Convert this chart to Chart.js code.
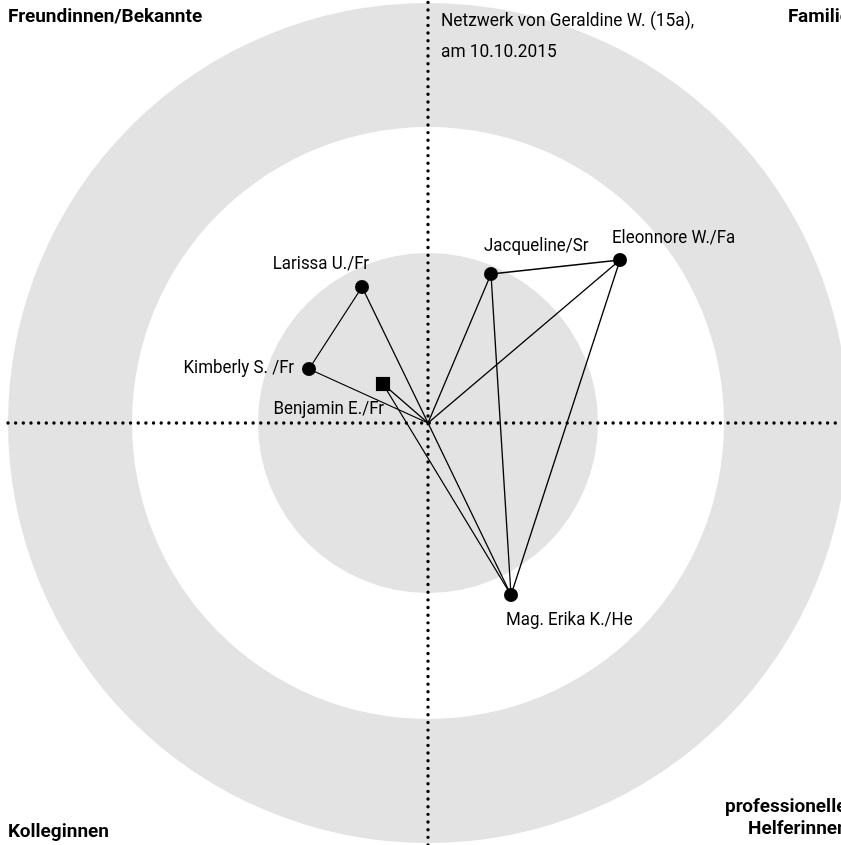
<!DOCTYPE html>
<html>
<head>
<meta charset="utf-8">
<script src="https://cdn.jsdelivr.net/npm/chart.js@4.4.0/dist/chart.umd.min.js"></script>
<style>
  html, body { margin: 0; padding: 0; background: #ffffff; overflow: hidden; }
  #wrap { width: 841px; height: 845px; position: relative; }
</style>
</head>
<body>
<div id="wrap"><canvas id="c"></canvas></div>
<script>
// ---- data (chart units, ego at 0,0) ----
const names = ['Larissa U./Fr', 'Kimberly S. /Fr', 'Benjamin E./Fr', 'Jacqueline/Sr', 'Eleonnore W./Fa', 'Mag. Erika K./He'];
const xs = [-66, -119, -45, 63, 192, 83];
const ys = [136, 54, 39, 149, 163, -172];
const shapes = ['circle', 'circle', 'rect', 'circle', 'circle', 'circle'];
const ego = 'Ego';
const edges = [
  ['Larissa U./Fr', 'Kimberly S. /Fr'],
  ['Larissa U./Fr', ego],
  ['Kimberly S. /Fr', ego],
  ['Benjamin E./Fr', ego],
  ['Benjamin E./Fr', 'Mag. Erika K./He'],
  ['Jacqueline/Sr', 'Eleonnore W./Fa'],
  ['Jacqueline/Sr', ego],
  ['Jacqueline/Sr', 'Mag. Erika K./He'],
  ['Eleonnore W./Fa', ego],
  ['Eleonnore W./Fa', 'Mag. Erika K./He'],
  [ego, 'Mag. Erika K./He']
];
const ringRadii = [420, 296, 170];          // outer gray, white, inner gray
const ringColors = ['#e3e3e3', '#ffffff', '#e3e3e3'];
const sectorTitles = ['Freundinnen/Bekannte', 'Familie', 'Kolleginnen', 'professionelle\nHelferinnen'];
const titleLines = ['Netzwerk von Geraldine W. (15a),', 'am 10.10.2015'];
const axisExtentX = [-420, 413];
const axisExtentY = [-422, 423];

// ---- helpers ----
function pos(n) {
  if (n === ego) return { x: 0, y: 0 };
  const i = names.indexOf(n);
  return { x: xs[i], y: ys[i] };
}

const FONT = "Roboto, 'Open Sans', sans-serif";

function drawText(ctx, text, px, py, align, sx) {
  ctx.save();
  ctx.translate(px, py);
  ctx.scale(sx, 1);
  ctx.textAlign = align;
  ctx.fillText(text, 0, 0);
  ctx.restore();
}

const edgeSets = edges.map(e => ({
  type: 'line',
  data: [pos(e[0]), pos(e[1])],
  borderColor: '#000',
  borderWidth: 1.3,
  pointRadius: 0,
  showLine: true,
  fill: false,
  order: 5
}));

const axisSets = [
  { type: 'line', data: [{ x: axisExtentX[0], y: 0 }, { x: axisExtentX[1], y: 0 }] },
  { type: 'line', data: [{ x: 0, y: axisExtentY[0] }, { x: 0, y: axisExtentY[1] }] }
].map(d => Object.assign(d, {
  borderColor: '#000', borderWidth: 3.4, borderDash: [0.01, 7.65], borderCapStyle: 'round',
  pointRadius: 0, showLine: true, fill: false, order: 10
}));

const nodeSet = {
  type: 'scatter',
  data: names.map((n, i) => ({ x: xs[i], y: ys[i] })),
  pointStyle: shapes,
  pointRadius: shapes.map(s => s === 'rect' ? 10 : 7),
  pointHoverRadius: shapes.map(s => s === 'rect' ? 10 : 7),
  backgroundColor: '#000',
  borderColor: '#000',
  borderWidth: 0,
  order: 1
};

// label placement (layout only)
const labelPlace = {
  'Larissa U./Fr':   { dx: 7,   dy: -23, align: 'right' },
  'Kimberly S. /Fr': { dx: -15, dy: -1,  align: 'right' },
  'Benjamin E./Fr':  { dx: 1,   dy: 25,  align: 'right' },
  'Jacqueline/Sr':   { dx: -7,  dy: -28, align: 'left' },
  'Eleonnore W./Fa': { dx: -8,  dy: -22, align: 'left' },
  'Mag. Erika K./He':{ dx: -5,  dy: 25,  align: 'left' }
};

const ringsPlugin = {
  id: 'rings',
  beforeDatasetsDraw(chart) {
    const { ctx, scales: { x, y } } = chart;
    const cx = x.getPixelForValue(0), cy = y.getPixelForValue(0);
    ctx.save();
    ringRadii.forEach((r, i) => {
      const rp = x.getPixelForValue(r) - cx;
      ctx.beginPath();
      ctx.arc(cx, cy, rp, 0, Math.PI * 2);
      ctx.fillStyle = ringColors[i];
      ctx.fill();
    });
    ctx.restore();
  },
  afterDatasetsDraw(chart) {
    const { ctx, scales: { x, y } } = chart;
    ctx.save();
    ctx.fillStyle = '#000';
    ctx.textBaseline = 'middle';
    ctx.font = "19px " + FONT;
    names.forEach((n, i) => {
      const p = labelPlace[n];
      drawText(ctx, n, x.getPixelForValue(xs[i]) + p.dx, y.getPixelForValue(ys[i]) + p.dy, p.align, 0.89);
    });
    // title
    drawText(ctx, titleLines[0], 441, 21, 'left', 0.91);
    drawText(ctx, titleLines[1], 441, 52, 'left', 0.91);
    // sector titles
    ctx.font = "bold 19px " + FONT;
    drawText(ctx, sectorTitles[0], 8, 17, 'left', 1.0);
    drawText(ctx, sectorTitles[1], 788, 17, 'left', 1.0);
    drawText(ctx, sectorTitles[2], 8, 832, 'left', 1.0);
    const pl = sectorTitles[3].split('\n');
    drawText(ctx, pl[0], 725, 807, 'left', 1.0);
    drawText(ctx, pl[1], 748, 829, 'left', 1.0);
    ctx.restore();
  }
};

new Chart(document.getElementById('c'), {
  data: { datasets: [nodeSet, ...edgeSets, ...axisSets] },
  options: {
    responsive: true,
    maintainAspectRatio: false,
    animation: false,
    layout: { padding: 0, autoPadding: false },
    plugins: { legend: { display: false }, tooltip: { enabled: false } },
    scales: {
      x: { type: 'linear', min: -428, max: 413, display: false },
      y: { type: 'linear', min: -422, max: 423, display: false }
    }
  },
  plugins: [ringsPlugin]
});
</script>
</body>
</html>
